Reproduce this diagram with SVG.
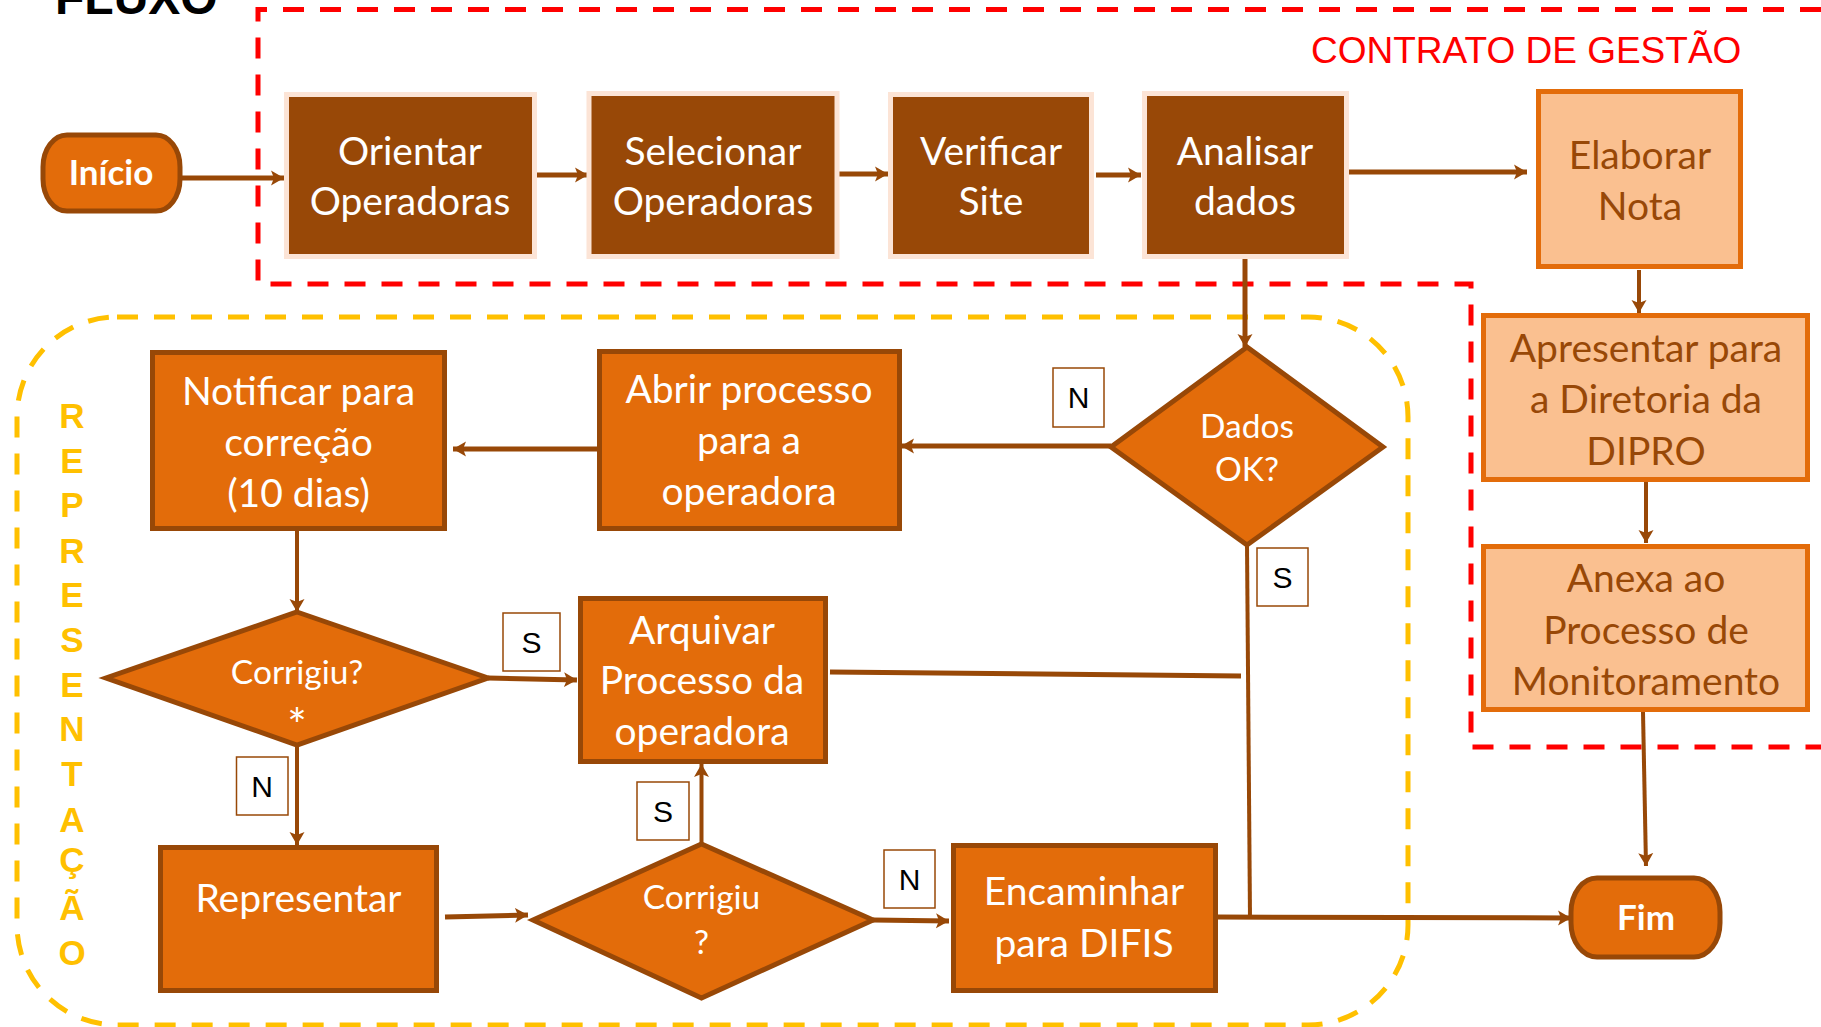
<svg xmlns="http://www.w3.org/2000/svg" width="1821" height="1027" viewBox="0 0 1821 1027">
<style>
.dk{fill:#984807;stroke:#FCE4D6;stroke-width:5}
.or{fill:#E36C0A;stroke:#984807;stroke-width:5}
.lt{fill:#FAC090;stroke:#E36C0A;stroke-width:5}
.t{font-family:Lato,"Liberation Sans",sans-serif;font-size:39px;fill:#fff;text-anchor:middle}
.ts{font-size:33.5px}
.tb{font-weight:bold;font-size:35px}
.tl{fill:#984807}
.lb{fill:#fff;stroke:#984807;stroke-width:1.5}
.lbt{font-family:"Liberation Sans",Arial,sans-serif;font-size:30px;fill:#000;text-anchor:middle}
.c{fill:none;stroke:#984807;stroke-width:5}
.cn{stroke-width:4}
.a{marker-end:url(#ah)}
</style>
<defs>
<marker id="ah" markerUnits="userSpaceOnUse" markerWidth="14" markerHeight="16" refX="13" refY="8" orient="auto">
<path d="M0,0.5 L13,8 L0,15.5 L3,8 z" fill="#984807"/>
</marker>
</defs>
<rect width="1821" height="1027" fill="#fff"/>
<text x="55" y="14" font-family="Liberation Sans,Arial,sans-serif" font-weight="bold" font-size="48" fill="#000">FLUXO</text>
<g id="contrato-gestao">
<path d="M1821,9.5 L258,9.5 L258,284 L1471,284 L1471,747 L1821,747" fill="none" stroke="#FF0000" stroke-width="5" stroke-dasharray="21 16"/>
<text x="1311" y="63" font-family="Liberation Sans,Arial,sans-serif" font-size="37" fill="#FF0000">CONTRATO DE GESTÃO</text>
</g>
<g id="representacao">
<rect x="17" y="317" width="1391" height="708" rx="100" ry="100" fill="none" stroke="#FFC000" stroke-width="5" stroke-dasharray="21 16"/>
<text font-family="Liberation Sans,Arial,sans-serif" font-weight="bold" font-size="35" fill="#FFC000" text-anchor="middle"><tspan x="72" y="428">R</tspan><tspan x="72" y="473">E</tspan><tspan x="72" y="517">P</tspan><tspan x="72" y="563">R</tspan><tspan x="72" y="607">E</tspan><tspan x="72" y="652">S</tspan><tspan x="72" y="697">E</tspan><tspan x="72" y="741">N</tspan><tspan x="72" y="786">T</tspan><tspan x="72" y="832">A</tspan><tspan x="72" y="872">Ç</tspan><tspan x="72" y="920">Ã</tspan><tspan x="72" y="965">O</tspan></text>
</g>
<g id="connectors">
<path class="c a" d="M181,178 L284,178"/>
<path class="c a" d="M535,175 L588,175"/>
<path class="c a" d="M838,174 L888,174"/>
<path class="c a" d="M1096,175 L1141,175"/>
<path class="c a" d="M1348,172 L1527,172"/>
<path class="c a" d="M1245,259 L1245,347"/>
<path class="c cn a" d="M1639,270 L1639,313"/>
<path class="c cn a" d="M1646,482 L1646,543"/>
<path class="c cn a" d="M1643,712 L1646,866"/>
<path class="c a" d="M1111,446 L901,446"/>
<path class="c a" d="M597,449 L453,449"/>
<path class="c cn a" d="M297,531 L297,612"/>
<path class="c a" d="M488,678 L577,680"/>
<path class="c" d="M830,672 L1241,676"/>
<path class="c cn" d="M1247,545 L1250,918"/>
<path class="c cn a" d="M297,745 L297,845"/>
<path class="c a" d="M445,917 L528,915"/>
<path class="c cn a" d="M701.5,844 L701.5,764"/>
<path class="c a" d="M873,920 L949,921"/>
<path class="c a" d="M1217,917 L1571,918"/>
</g>
<g id="inicio">
<rect class="or" x="43" y="135" width="137" height="76" rx="24" ry="32"/>
<text class="t tb" x="111" y="185">Início</text>
</g>
<g id="orientar">
<rect class="dk" x="286.5" y="94.5" width="248" height="162"/>
<text class="t" x="410" y="165">Orientar</text>
<text class="t" x="410" y="215">Operadoras</text>
</g>
<g id="selecionar">
<rect class="dk" x="589" y="93.5" width="248" height="163"/>
<text class="t" x="713" y="165">Selecionar</text>
<text class="t" x="713" y="215">Operadoras</text>
</g>
<g id="verificar">
<rect class="dk" x="890.5" y="94.5" width="201" height="162"/>
<text class="t" x="991" y="165">Verificar</text>
<text class="t" x="991" y="215">Site</text>
</g>
<g id="analisar">
<rect class="dk" x="1144.5" y="93.5" width="202" height="163"/>
<text class="t" x="1245" y="165">Analisar</text>
<text class="t" x="1245" y="215">dados</text>
</g>
<g id="elaborar">
<rect class="lt" x="1538.5" y="91.5" width="202" height="175"/>
<text class="t tl" x="1640" y="169">Elaborar</text>
<text class="t tl" x="1640" y="220">Nota</text>
</g>
<g id="apresentar">
<rect class="lt" x="1483.5" y="315.5" width="324" height="164"/>
<text class="t tl" x="1646" y="362">Apresentar para</text>
<text class="t tl" x="1646" y="413">a Diretoria da</text>
<text class="t tl" x="1646" y="465">DIPRO</text>
</g>
<g id="anexa">
<rect class="lt" x="1483.5" y="546.5" width="324" height="163"/>
<text class="t tl" x="1646" y="592">Anexa ao</text>
<text class="t tl" x="1646" y="644">Processo de</text>
<text class="t tl" x="1646" y="695">Monitoramento</text>
</g>
<g id="fim">
<rect class="or" x="1571" y="878" width="149" height="79" rx="26" ry="34"/>
<text class="t tb" x="1646" y="930">Fim</text>
</g>
<g id="dados-ok">
<polygon class="or" points="1247,347 1383,447 1247,545 1111,447"/>
<text class="t ts" x="1247" y="438">Dados</text>
<text class="t ts" x="1247" y="481">OK?</text>
</g>
<g id="abrir">
<rect class="or" x="599.5" y="351.5" width="300" height="177"/>
<text class="t" x="749" y="403">Abrir processo</text>
<text class="t" x="749" y="454">para a</text>
<text class="t" x="749" y="505">operadora</text>
</g>
<g id="notificar">
<rect class="or" x="152.5" y="352.5" width="292" height="176"/>
<text class="t" x="298.5" y="405">Notificar para</text>
<text class="t" x="298.5" y="456">correção</text>
<text class="t" x="298.5" y="507">(10 dias)</text>
</g>
<g id="corrigiu1">
<polygon class="or" points="297,612 488,678 297,745 106,678"/>
<text class="t ts" x="297" y="684">Corrigiu?</text>
<text class="t" x="297" y="742" style="font-size:46px">*</text>
</g>
<g id="arquivar">
<rect class="or" x="580.5" y="598.5" width="245" height="163"/>
<text class="t" x="702" y="644">Arquivar</text>
<text class="t" x="702" y="694">Processo da</text>
<text class="t" x="702" y="745">operadora</text>
</g>
<g id="representar">
<rect class="or" x="160.5" y="847.5" width="276" height="143"/>
<text class="t" x="298.5" y="912">Representar</text>
</g>
<g id="corrigiu2">
<polygon class="or" points="701.5,844 873,920 701.5,998 533,920"/>
<text class="t ts" x="701.5" y="909">Corrigiu</text>
<text class="t ts" x="701.5" y="954">?</text>
</g>
<g id="encaminhar">
<rect class="or" x="953.5" y="845.5" width="262" height="145"/>
<text class="t" x="1084" y="905">Encaminhar</text>
<text class="t" x="1084" y="957">para DIFIS</text>
</g>
<g id="labels">
<rect class="lb" x="1053" y="368" width="51" height="59"/><text class="lbt" x="1078.5" y="408">N</text>
<rect class="lb" x="1257" y="548" width="51" height="58"/><text class="lbt" x="1282.5" y="588">S</text>
<rect class="lb" x="503" y="613" width="57" height="58"/><text class="lbt" x="531.5" y="653">S</text>
<rect class="lb" x="236.5" y="757" width="51.5" height="58"/><text class="lbt" x="262" y="797">N</text>
<rect class="lb" x="637" y="782" width="52" height="58"/><text class="lbt" x="663" y="822">S</text>
<rect class="lb" x="884" y="850" width="51" height="58"/><text class="lbt" x="909.5" y="890">N</text>
</g>
</svg>
